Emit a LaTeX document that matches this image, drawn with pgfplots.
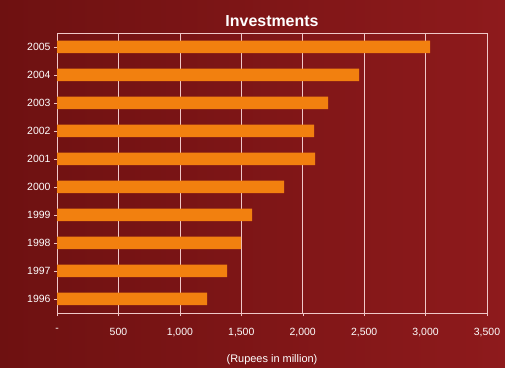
\documentclass[border=0pt]{standalone}
\usepackage{pgfplots}
\pgfplotsset{compat=1.18}
\usepackage{fontspec}
\setmainfont{Liberation Sans}
\definecolor{bgdark}{HTML}{6E1111}
\definecolor{bglight}{HTML}{8E1A1C}
\definecolor{barorange}{HTML}{F2800F}
\definecolor{gridpink}{HTML}{F0C8C8}
\begin{document}
\begin{tikzpicture}
\shade[left color=bgdark, right color=bglight, use as bounding box] (0,0) rectangle (505bp,368bp);
\begin{axis}[
  at={(57bp,55bp)}, anchor=south west,
  scale only axis, width=430bp, height=280bp,
  xbar, bar width=12.5bp,
  xmin=0, xmax=3500, ymin=-0.5, ymax=9.5,
  xtick={0,500,1000,1500,2000,2500,3000,3500},
  xticklabels={-,500,{1,000},{1,500},{2,000},{2,500},{3,000},{3,500}},
  ytick={0,...,9},
  yticklabels={1996,1997,1998,1999,2000,2001,2002,2003,2004,2005},
  xtick pos=bottom, ytick pos=left,
  xmajorgrids, major grid style={gridpink, line width=0.6pt},
  axis line style={gridpink, line width=0.8pt},
  tick style={gridpink},
  major tick length=3bp,
  tick align=outside,
  ticklabel style={white, font=\fontsize{10.5}{12}\selectfont},
  xticklabel style={yshift=-9bp},
  xlabel={(Rupees in million)},
  xlabel style={white, font=\fontsize{11}{13}\selectfont, yshift=-11bp},
  title={\textbf{Investments}},
  title style={white, font=\fontsize{16}{18}\selectfont, yshift=-3bp},
  axis background/.style={fill=none},
]
\addplot[fill=barorange, draw=none] coordinates {
(1221,0) (1384,1) (1498,2) (1588,3) (1849,4) (2100,5) (2093,6) (2207,7) (2459,8) (3037,9)};
\end{axis}
\end{tikzpicture}
\end{document}
